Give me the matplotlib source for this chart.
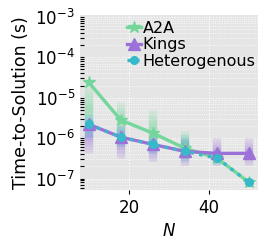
import numpy as np
import matplotlib.pyplot as plt

N = [10, 18, 26, 34, 42, 50]
a2a = [2.4e-5, 2.8e-6, 1.33e-6, 5.6e-7, 3.2e-7, 8e-8]
kings = [2.2e-6, 1.06e-6, 7e-7, 4.7e-7, 4.2e-7, 4.2e-7]
hetero = [2.2e-6, 1.06e-6, 7e-7, 4.7e-7, 3.2e-7, 8e-8]

# spread of the individual runs (low, high)
a2a_lo = [1.5e-6, 1.0e-6, 6e-7, 3e-7, 2.5e-7, 7e-8]
a2a_hi = [2.0e-5, 8e-6, 5e-6, 1.5e-6, 4e-7, 9e-8]
kings_lo = [4e-7, 3e-7, 2.5e-7, 2e-7, 2e-7, 2e-7]
kings_hi = [3e-6, 2e-6, 1.2e-6, 1e-6, 1e-6, 1e-6]
het_lo = [1e-6, 6e-7, 4e-7, 2.5e-7, 2.2e-7, 7e-8]
het_hi = [4e-6, 2e-6, 1.3e-6, 1.2e-6, 5e-7, 9e-8]

c_a2a = '#74d69b'
c_kings = '#9c72d8'
c_het = '#36b9c9'

plt.rcParams['font.size'] = 12
fig = plt.figure(figsize=(2.69, 2.48), dpi=100)
ax = fig.add_axes([0.297, 0.235, 0.662, 0.705])
ax.set_facecolor('#e5e5e5')

def spread(x, lo, hi, c):
    for xi, l, h in zip(x, lo, hi):
        ys = np.logspace(np.log10(l), np.log10(h), 16)
        for k in range(len(ys) - 1):
            t = abs(k - 7) / 8
            ax.plot([xi, xi], [ys[k], ys[k + 1]], color=c, lw=6,
                    alpha=0.5 * (1 - t) + 0.08, solid_capstyle='butt', zorder=2)

spread(N, a2a_lo, a2a_hi, c_a2a)
spread(N, kings_lo, kings_hi, c_kings)
spread(N, het_lo, het_hi, c_het)

ax.plot(N, a2a, color=c_a2a, lw=2.4, marker='*', ms=9, label='A2A', zorder=3)
ax.plot(N, kings, color=c_kings, lw=2.4, marker='^', ms=8, label='Kings', zorder=3)
ax.plot(N, hetero, color=c_het, lw=2.4, ls=':', marker='o', ms=5.5, label='Heterogenous', zorder=4)

ax.set_yscale('log')
ax.set_xlim(7.8, 52.2)
ax.set_ylim(5.3e-8, 1.12e-3)
ax.set_xticks([20, 40])
ax.grid(True, which='major', color='white', ls=':', lw=0.8)
ax.grid(True, which='minor', axis='y', color='white', ls=':', lw=0.6)
for s in ax.spines.values():
    s.set_visible(False)
ax.tick_params(which='both', direction='in', length=3, width=0.8)
ax.tick_params(axis='x', direction='out', length=3)
ax.set_xlabel('$N$')
ax.set_ylabel('Time-to-Solution (s)', fontsize=12.5)
ax.legend(loc='upper left', bbox_to_anchor=(0.2, 1.03), frameon=False, fontsize=11.5,
          handlelength=0.9, handletextpad=0.1, labelspacing=0.1, borderpad=0.2)
fig.savefig('out.png', dpi=100)
